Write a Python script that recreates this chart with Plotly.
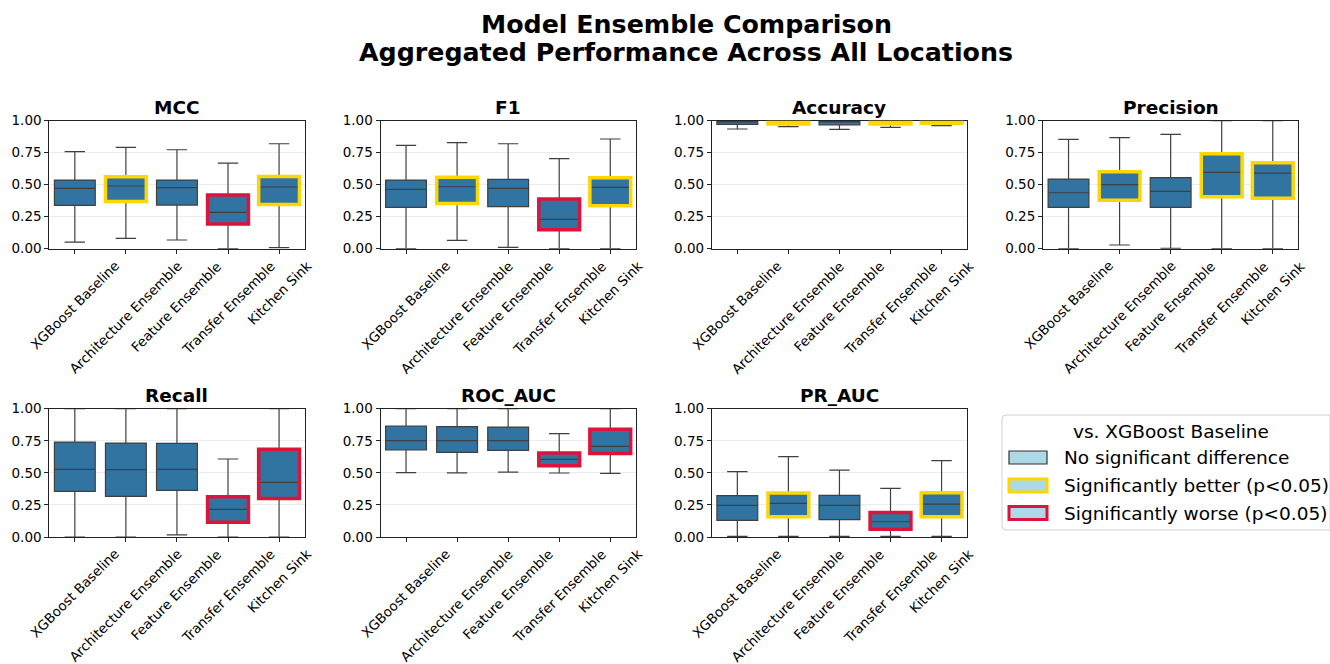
import plotly.graph_objects as go

# ---------------- data ----------------
categories = ["XGBoost Baseline", "Architecture Ensemble", "Feature Ensemble",
              "Transfer Ensemble", "Kitchen Sink"]
metrics = ["MCC", "F1", "Accuracy", "Precision", "Recall", "ROC_AUC", "PR_AUC"]

mcc_lower = [0.052, 0.081, 0.068, 0.0, 0.008]
mcc_q1 = [0.339, 0.368, 0.341, 0.192, 0.346]
mcc_median = [0.471, 0.490, 0.477, 0.284, 0.482]
mcc_q3 = [0.536, 0.562, 0.536, 0.419, 0.565]
mcc_upper = [0.758, 0.792, 0.773, 0.669, 0.820]
mcc_sig = ["none", "better", "none", "worse", "better"]

f1_lower = [0.0, 0.065, 0.010, 0.0, 0.0]
f1_q1 = [0.323, 0.354, 0.328, 0.148, 0.336]
f1_median = [0.464, 0.484, 0.471, 0.229, 0.479]
f1_q3 = [0.536, 0.558, 0.542, 0.388, 0.555]
f1_upper = [0.807, 0.828, 0.820, 0.703, 0.857]
f1_sig = ["none", "better", "none", "worse", "better"]

acc_lower = [0.935, 0.953, 0.932, 0.948, 0.961]
acc_q1 = [0.972, 0.975, 0.968, 0.974, 0.980]
acc_median = [0.994, 0.995, 0.993, 0.994, 0.996]
acc_q3 = [0.999, 0.999, 0.999, 0.999, 0.999]
acc_upper = [1.0, 1.0, 1.0, 1.0, 1.0]
acc_sig = ["none", "better", "none", "better", "better"]

prec_lower = [0.0, 0.029, 0.003, 0.0, 0.0]
prec_q1 = [0.323, 0.378, 0.323, 0.406, 0.394]
prec_median = [0.437, 0.500, 0.448, 0.596, 0.591]
prec_q3 = [0.544, 0.602, 0.555, 0.742, 0.672]
prec_upper = [0.854, 0.867, 0.893, 1.0, 1.0]
prec_sig = ["none", "better", "none", "better", "better"]

rec_lower = [0.0, 0.0, 0.016, 0.0, 0.0]
rec_q1 = [0.356, 0.317, 0.364, 0.114, 0.300]
rec_median = [0.527, 0.525, 0.527, 0.216, 0.426]
rec_q3 = [0.740, 0.732, 0.730, 0.314, 0.683]
rec_upper = [1.0, 1.0, 1.0, 0.608, 1.0]
rec_sig = ["none", "none", "none", "worse", "worse"]

roc_lower = [0.501, 0.500, 0.506, 0.499, 0.496]
roc_q1 = [0.678, 0.660, 0.675, 0.555, 0.650]
roc_median = [0.751, 0.751, 0.751, 0.605, 0.706]
roc_q3 = [0.865, 0.860, 0.857, 0.655, 0.840]
roc_upper = [1.0, 1.0, 1.0, 0.805, 1.0]
roc_sig = ["none", "none", "none", "worse", "worse"]

pr_lower = [0.005, 0.005, 0.005, 0.005, 0.005]
pr_q1 = [0.130, 0.158, 0.135, 0.060, 0.158]
pr_median = [0.247, 0.262, 0.247, 0.119, 0.257]
pr_q3 = [0.322, 0.343, 0.325, 0.190, 0.345]
pr_upper = [0.509, 0.626, 0.522, 0.379, 0.595]
pr_sig = ["none", "better", "none", "worse", "better"]

y_ticks = [0.0, 0.25, 0.5, 0.75, 1.0]

table = {
    "MCC": (mcc_lower, mcc_q1, mcc_median, mcc_q3, mcc_upper, mcc_sig),
    "F1": (f1_lower, f1_q1, f1_median, f1_q3, f1_upper, f1_sig),
    "Accuracy": (acc_lower, acc_q1, acc_median, acc_q3, acc_upper, acc_sig),
    "Precision": (prec_lower, prec_q1, prec_median, prec_q3, prec_upper, prec_sig),
    "Recall": (rec_lower, rec_q1, rec_median, rec_q3, rec_upper, rec_sig),
    "ROC_AUC": (roc_lower, roc_q1, roc_median, roc_q3, roc_upper, roc_sig),
    "PR_AUC": (pr_lower, pr_q1, pr_median, pr_q3, pr_upper, pr_sig),
}

# ---------------- layout geometry ----------------
W, H = 1330, 664
FONT = "DejaVu Sans"
col_left = [49.3, 380.5, 711.8, 1043.0]
ax_w = 255.3
row_top = [120.7, 408.7]
row_bot = [248.7, 537.0]

BOX_FILL = "#3274a1"
EDGE = "#3f3f3f"
SIG_COLOR = {"better": "#FFD700", "worse": "#DC143C"}

fig = go.Figure()
layout = dict(
    template="none",
    width=W, height=H, autosize=False,
    margin=dict(l=0, r=0, t=0, b=0, pad=0, autoexpand=False),
    paper_bgcolor="white", plot_bgcolor="white",
    showlegend=False, boxmode="overlay",
    font=dict(family=FONT, color="black"),
)
shapes = []
annotations = []

for k, metric in enumerate(metrics):
    n = k + 1
    r, c = divmod(k, 4)
    x0 = col_left[c] / W
    x1 = (col_left[c] + ax_w) / W
    y0 = 1 - row_bot[r] / H
    y1 = 1 - row_top[r] / H
    xa = "x" if n == 1 else f"x{n}"
    ya = "y" if n == 1 else f"y{n}"
    layout[f"xaxis{n}"] = dict(
        domain=[x0, x1], anchor=ya, range=[-0.5, 4.5], automargin=False,
        tickvals=list(range(len(categories))), showticklabels=False,
        ticks="outside", ticklen=4, tickcolor="#222", showgrid=False,
        zeroline=False, showline=True, linecolor="#222", linewidth=1, mirror=True,
    )
    layout[f"yaxis{n}"] = dict(
        domain=[y0, y1], anchor=xa, range=[0, 1], automargin=False,
        tickvals=y_ticks, tickformat=".2f", ticks="outside", ticklen=4,
        tickcolor="#222", tickfont=dict(size=13.5, family=FONT, color="black"),
        showgrid=True, gridcolor="#ececec", gridwidth=1, zeroline=False,
        showline=True, linecolor="#222", linewidth=1, mirror=True,
    )
    lo, q1, med, q3, hi, sig = table[metric]
    for i, cat in enumerate(categories):
        fig.add_trace(go.Box(
            x=[i], lowerfence=[lo[i]], q1=[q1[i]], median=[med[i]], q3=[q3[i]],
            upperfence=[hi[i]], width=0.8, whiskerwidth=0.5,
            fillcolor=BOX_FILL, line=dict(color=EDGE, width=1.2),
            boxpoints=False, xaxis=xa, yaxis=ya, name=cat, showlegend=False,
        ))
        if sig[i] in SIG_COLOR:
            shapes.append(dict(
                type="rect", xref=xa, yref=ya, x0=i - 0.4, x1=i + 0.4,
                y0=q1[i], y1=q3[i], line=dict(color=SIG_COLOR[sig[i]], width=3.5),
                fillcolor="rgba(0,0,0,0)", layer="above",
            ))
        # rotated category labels, centered under the tick
        annotations.append(dict(
            text=cat, xref=xa, yref=f"{ya} domain", x=i, y=0,
            xanchor="center", yanchor="top", yshift=-7, textangle=-45,
            showarrow=False, font=dict(size=13.4, family=FONT, color="black"),
        ))
    # subplot title
    annotations.append(dict(
        text=f"<b>{metric}</b>", xref="paper", yref="paper",
        x=(x0 + x1) / 2, y=y1, xanchor="center", yanchor="bottom", yshift=1,
        showarrow=False, font=dict(size=18.5, family=FONT, color="black"),
    ))

# main title
annotations.append(dict(
    text="<b>Model Ensemble Comparison</b>", xref="paper", yref="paper",
    x=686 / W, y=1 - 24 / H, xanchor="center", yanchor="middle", showarrow=False,
    font=dict(size=25.3, family=FONT, color="black"),
))
annotations.append(dict(
    text="<b>Aggregated Performance Across All Locations</b>", xref="paper", yref="paper",
    x=686 / W, y=1 - 53 / H, xanchor="center", yanchor="middle", showarrow=False,
    font=dict(size=25.3, family=FONT, color="black"),
))

# legend (drawn manually)
lx0, lx1, ly0, ly1 = 1002 / W, 1.0, 1 - 415 / H, 1 - 530 / H
rx, ry = 4 / W, 4 / H
path = (f"M {lx0 + rx},{ly0} L {lx1},{ly0} L {lx1},{ly1} L {lx0 + rx},{ly1} "
        f"Q {lx0},{ly1} {lx0},{ly1 + ry} L {lx0},{ly0 - ry} Q {lx0},{ly0} {lx0 + rx},{ly0} Z")
shapes.append(dict(type="path", xref="paper", yref="paper", path=path,
                   line=dict(color="#d0d0d0", width=1), fillcolor="white", layer="above"))
annotations.append(dict(
    text="vs. XGBoost Baseline", xref="paper", yref="paper",
    x=1171 / W, y=1 - 431 / H, xanchor="center", yanchor="middle", showarrow=False,
    font=dict(size=18.5, family=FONT, color="black"),
))
legend_items = [("No significant difference", "#333333", 1.2),
                ("Significantly better (p<0.05)", "#FFD700", 3),
                ("Significantly worse (p<0.05)", "#DC143C", 3)]
legend_y = [457.5, 485.5, 513]
for (label, col, lw), yc in zip(legend_items, legend_y):
    shapes.append(dict(type="rect", xref="paper", yref="paper",
                       x0=1009 / W, x1=1047 / W, y0=1 - (yc - 6.5) / H, y1=1 - (yc + 6.5) / H,
                       line=dict(color=col, width=lw), fillcolor="#add8e6", layer="above"))
    annotations.append(dict(
        text=label, xref="paper", yref="paper", x=1062 / W, y=1 - yc / H,
        xanchor="left", yanchor="middle", showarrow=False,
        font=dict(size=18.5, family=FONT, color="black"),
    ))

layout["shapes"] = shapes
layout["annotations"] = annotations
fig.update_layout(**layout)
fig.write_html("out.html")
